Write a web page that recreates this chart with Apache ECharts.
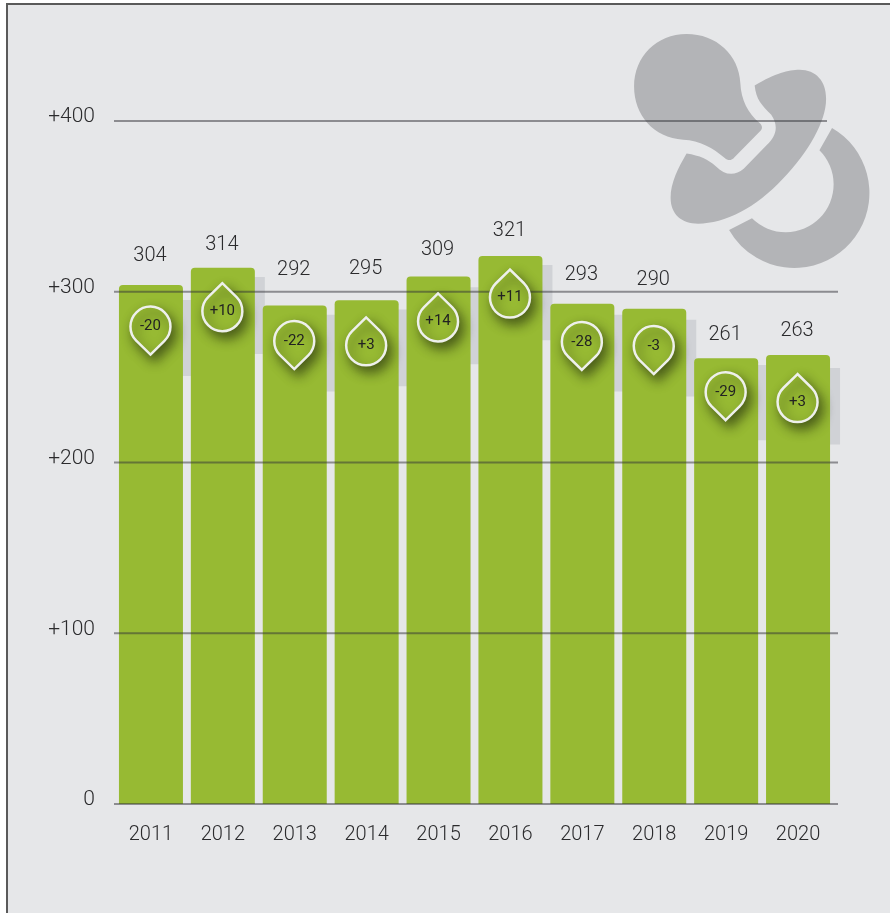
<!DOCTYPE html>
<html>
<head>
<meta charset="utf-8">
<style>html,body{margin:0;padding:0;background:#fff}#chart{width:890px;height:913px}</style>
<script src="https://cdn.jsdelivr.net/npm/echarts@6/dist/echarts.min.js"></script>
</head>
<body>
<div id="chart"></div>
<script>
var years = ['2011', '2012', '2013', '2014', '2015', '2016', '2017', '2018', '2019', '2020'];
var births = [304, 314, 292, 295, 309, 321, 293, 290, 261, 263];
var changes = ['-20', '+10', '-22', '+3', '+14', '+11', '-28', '-3', '-29', '+3'];
var yTicks = [0, 100, 200, 300, 400];
// right end of each horizontal rule, the top one stops short
var tickEnds = [724, 724, 724, 724, 713];
// in axis units
var labelLevels = [321, 327.4, 312.6, 313.4, 324.5, 335.4, 310, 307, 274.6, 277];
var dropLevels = [279.6, 288.6, 271.1, 268.6, 282.6, 296.6, 270.6, 268.2, 241.2, 235.4];
var bandLow = [250.6, 263.6, 241.6, 244.6, 257.6, 271.6, 241.6, 238.6, 213.1, 210.6];
var bandHigh = [295.2, 308.6, 286.6, 289.6, 302.6, 315.6, 286.6, 283.6, 257.1, 255.3];

var green = '#97ba33';
var textColor = '#2b2b2d';
var pacifier = 'M362 190C364 240 385 280 420 310C429 318 429 327 422 334L345 412C335 424 325 424 315 415C280 385 240 362 190 360C100 355 42 285 42 200C42 110 110 42 200 42C290 42 358 105 362 190Z' +
  'M405 197C470 160 505 150 540 150C590 150 620 185 620 235C622 300 570 395 490 478C410 565 315 613 235 613C185 613 152 585 152 535C152 490 175 445 200 402C240 408 265 420 288 440C315 468 345 470 372 448L440 378C475 345 475 315 455 285C425 255 410 240 405 197Z' +
  'M638 325A226 226 0 1 1 328 632L397 597A143 143 0 1 0 600 392Z';

var chart = echarts.init(document.getElementById('chart'));
chart.setOption({
  animation: false,
  textStyle: { fontFamily: 'Roboto' },
  graphic: [
    { type: 'rect', z: -2, silent: true, shape: { x: 7, y: 4, width: 900, height: 920 },
      style: { fill: '#e6e7e9', stroke: '#5a5a5a', lineWidth: 2 } }
  ],
  grid: [
    { left: 115, top: 121, width: 719, height: 683 },
    { left: 114, top: 121, width: 724, height: 683 }
  ],
  xAxis: [
    { type: 'category', data: years, gridIndex: 0, axisLine: { show: false }, axisTick: { show: false },
      axisLabel: { margin: 21, fontSize: 20, fontWeight: 300, color: textColor } },
    { type: 'value', gridIndex: 1, min: 0, max: 724, show: false }
  ],
  yAxis: [
    { type: 'value', gridIndex: 0, min: 0, max: 400, show: false },
    { type: 'value', gridIndex: 1, min: 0, max: 400, interval: 100,
      axisLine: { show: false }, axisTick: { show: false }, splitLine: { show: false },
      axisLabel: {
        margin: 19, fontSize: 21, fontWeight: 300, color: textColor, verticalAlign: 'bottom', lineHeight: 8,
        formatter: function (v) { return yTicks.indexOf(v) > 0 ? '+' + v : String(v); }
      } }
  ],
  series: [
    {
      // pacifier icon behind everything
      type: 'custom', coordinateSystem: 'none', z: 0, silent: true, data: [[0]],
      renderItem: function () {
        return { type: 'path', shape: { pathData: pacifier, x: 634, y: 34, width: 235.5, height: 234 },
          style: { fill: '#b3b4b7' } };
      }
    },
    {
      type: 'custom', z: 1, silent: true,
      data: years.map(function (y, i) { return [i, bandLow[i], bandHigh[i]]; }),
      renderItem: function (params, api) {
        var low = api.coord([api.value(0), api.value(1)]);
        var high = api.coord([api.value(0), api.value(2)]);
        return { type: 'rect', shape: { x: low[0] - 22, y: high[1], width: 64, height: low[1] - high[1] },
          style: { fill: '#d0d2d6' } };
      }
    },
    {
      type: 'bar', z: 2, data: births, barWidth: 64, silent: true,
      itemStyle: { color: green, borderRadius: [4, 4, 0, 0] }
    },
    {
      // horizontal rules run over the bars
      type: 'custom', z: 3, silent: true, xAxisIndex: 1, yAxisIndex: 1,
      data: yTicks.map(function (t, i) { return [tickEnds[i], t]; }),
      renderItem: function (params, api) {
        var a = api.coord([0, api.value(1)]);
        var b = api.coord([api.value(0), api.value(1)]);
        return { type: 'line', shape: { x1: a[0], y1: a[1], x2: b[0], y2: b[1] },
          style: { stroke: 'rgba(50,50,55,0.5)', lineWidth: 2 } };
      }
    },
    {
      type: 'custom', z: 5, silent: true,
      data: years.map(function (y, i) { return [i, dropLevels[i]]; }),
      renderItem: function (params, api) {
        var p = api.coord([api.value(0), api.value(1)]);
        var text = changes[params.dataIndex];
        var up = text.charAt(0) === '+';
        return {
          type: 'group', x: p[0] - 0.5, y: p[1],
          children: [
            { type: 'path', rotation: up ? Math.PI : 0,
              shape: { pathData: 'M0 28L14 14.3A20 20 0 1 0 -14 14.3Z', x: -20, y: -20, width: 40, height: 48 },
              style: { fill: green, stroke: '#eef0ec', lineWidth: 2.5,
                shadowBlur: 12, shadowOffsetX: 4, shadowOffsetY: 6, shadowColor: 'rgba(30,40,10,0.65)' } },
            { type: 'text', style: { text: text, x: 0, y: 0, align: 'center', verticalAlign: 'middle',
              font: '15px Roboto', fill: '#222' } }
          ]
        };
      }
    },
    {
      type: 'scatter', z: 6, symbolSize: 0, silent: true, itemStyle: { opacity: 1 },
      data: years.map(function (y, i) { return { value: [i, labelLevels[i]], label: { formatter: String(births[i]) } }; }),
      label: { show: true, position: 'inside', offset: [-1, 0], fontSize: 20, fontWeight: 300, color: textColor }
    }
  ]
});
</script>
</body>
</html>
